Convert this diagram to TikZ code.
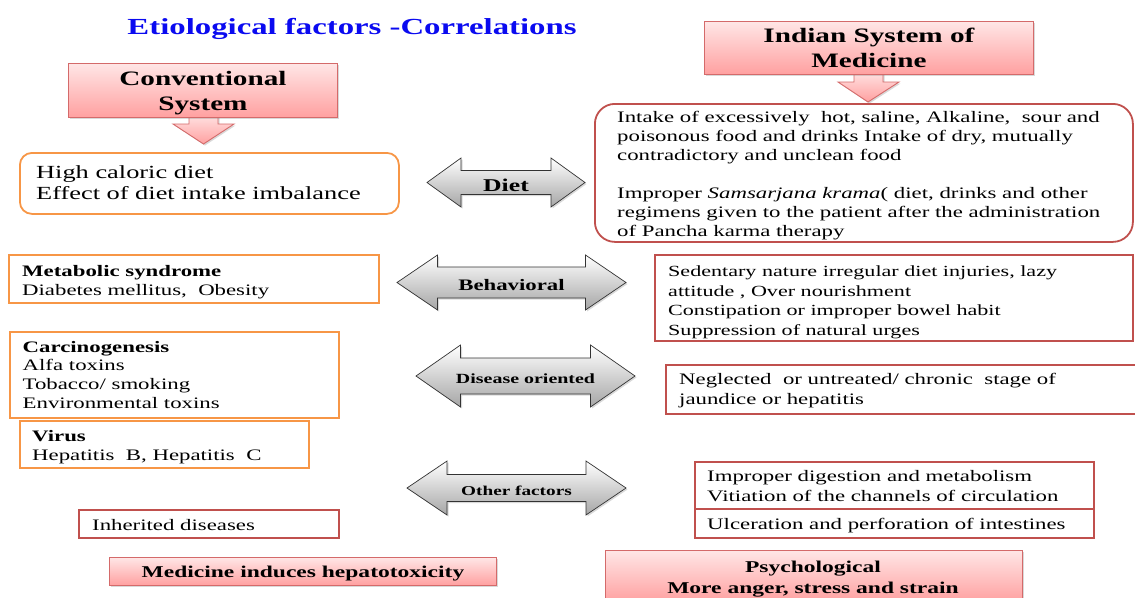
\documentclass[tikz,border=0pt]{standalone}
\usepackage{fontspec}
\setmainfont{Liberation Serif}
\usetikzlibrary{shadows}
\definecolor{orng}{HTML}{F79646}
\definecolor{rdb}{HTML}{C0504D}
\definecolor{pinkt}{HTML}{FFE6E6}
\definecolor{pinkb}{HTML}{FFA0A0}
\definecolor{pinkd}{HTML}{D46A6A}
\definecolor{titleblue}{HTML}{0A0AF0}
\newcommand\stx[1]{\scalebox{1.425}[1]{#1}}
\newcommand\fs[2]{\fontsize{#1}{#2}\selectfont}
\newcommand\gdarrow[7]{%
  \path[garrow] (#2-#4,#3) -- (#2-#5,#3-#7) -- (#2-#5,#3-#6) -- (#2+#5,#3-#6) -- (#2+#5,#3-#7) -- (#2+#4,#3) -- (#2+#5,#3+#7) -- (#2+#5,#3+#6) -- (#2-#5,#3+#6) -- (#2-#5,#3+#7) -- cycle;
  \coordinate (#1) at (#2,#3);}
\begin{document}
\begin{tikzpicture}[x=1pt,y=-1pt,
  obox/.style={draw=orng, line width=1.8pt, fill=white, inner sep=0pt, anchor=north west},
  rbox/.style={draw=rdb, line width=1.8pt, fill=white, inner sep=0pt, anchor=north west},
  pbox/.style={draw=pinkd, line width=0.9pt, top color=pinkt, bottom color=pinkb,
    drop shadow={shadow xshift=1.5pt, shadow yshift=-1.5pt, opacity=0.3}},
  garrow/.style={draw=black!80, line width=0.7pt, top color=white, bottom color=black!35,
    drop shadow={shadow xshift=1.5pt, shadow yshift=-1.5pt, opacity=0.3}},
  txt/.style={inner sep=0pt, anchor=west, yshift=-2.5pt},
  ctxt/.style={inner sep=0pt, yshift=-2.5pt},
]
\useasboundingbox (0,0) rectangle (1135,597);
\clip (0,0) rectangle (1135,597);

% title
\node[ctxt, text=titleblue, font=\fs{23}{27}\bfseries] (title) at (352,26) {\stx{Etiological factors -Correlations}};

% down arrows
\path[pbox] (189,113) -- (218,113) -- (218,124) -- (234,124) -- (203.5,144) -- (173,124) -- (189,124) -- cycle;
\path[pbox] (854,70) -- (883,70) -- (883,82) -- (899,82) -- (868,102) -- (838,82) -- (854,82) -- cycle;

% header boxes
\node[pbox, inner sep=0pt, anchor=north west, minimum width=269pt, minimum height=54pt] (conv) at (68,63) {};
\node[ctxt, font=\fs{20.5}{25}\bfseries] (convt) at (conv.center) {\stx{\begin{tabular}{@{}c@{}}Conventional\\System\end{tabular}}};
\node[pbox, inner sep=0pt, anchor=north west, minimum width=329pt, minimum height=53pt] (ind) at (704,21) {};
\node[ctxt, font=\fs{20.5}{25}\bfseries] (indt) at (ind.center) {\stx{\begin{tabular}{@{}c@{}}Indian System of\\Medicine\end{tabular}}};

% left column
\node[obox, rounded corners=12pt, minimum width=379pt, minimum height=61pt] (dietl) at (19,152) {};
\node[txt, font=\fs{18.5}{21}] (dietlt) at (36,182.5) {\stx{\begin{tabular}{@{}l@{}}High caloric diet\\Effect of diet intake imbalance\end{tabular}}};

\node[obox, minimum width=370pt, minimum height=48pt] (met) at (8,254) {};
\node[txt, font=\fs{16}{19}] (mett) at (22,279.5) {\stx{\begin{tabular}{@{}l@{}}\textbf{Metabolic syndrome}\\Diabetes mellitus,\ \ Obesity\end{tabular}}};

\node[obox, minimum width=329pt, minimum height=86pt] (carc) at (9,331) {};
\node[txt, font=\fs{16}{18.7}] (carct) at (22.5,374) {\stx{\begin{tabular}{@{}l@{}}\textbf{Carcinogenesis}\\Alfa toxins\\Tobacco/ smoking\\Environmental toxins\end{tabular}}};

\node[obox, minimum width=289pt, minimum height=47pt] (vir) at (19,420) {};
\node[txt, font=\fs{16}{19}] (virt) at (32,444.5) {\stx{\begin{tabular}{@{}l@{}}\textbf{Virus}\\Hepatitis\ \ B, Hepatitis\ \ C\end{tabular}}};

\node[rbox, minimum width=260pt, minimum height=28pt] (inh) at (78,509) {};
\node[txt, font=\fs{16}{19}] (inht) at (92,523) {\stx{Inherited diseases}};

\node[pbox, inner sep=0pt, anchor=north west, minimum width=387pt, minimum height=28pt] (med) at (109,557) {};
\node[ctxt, font=\fs{16.5}{20}\bfseries] (medt) at (med.center) {\stx{Medicine induces hepatotoxicity}};

% right column
\node[rbox, rounded corners=20pt, minimum width=538pt, minimum height=138pt] (ayd) at (594,103) {};
\node[txt, font=\fs{16}{19}] (aydt) at (617,173.5) {\stx{\begin{tabular}{@{}l@{}}Intake of excessively\ \ hot, saline, Alkaline,\ \ sour and\\poisonous food and drinks Intake of dry, mutually\\contradictory and unclean food\\ \\Improper \textit{Samsarjana krama}( diet, drinks and other\\regimens given to the patient after the administration\\of Pancha karma therapy\end{tabular}}};

\node[rbox, minimum width=478pt, minimum height=86pt] (beh) at (654,254) {};
\node[txt, font=\fs{15.5}{19.5}] (beht) at (668,299.5) {\stx{\begin{tabular}{@{}l@{}}Sedentary nature irregular diet injuries, lazy\\attitude , Over nourishment\\Constipation or improper bowel habit\\Suppression of natural urges\end{tabular}}};

\node[rbox, minimum width=480pt, minimum height=49pt] (neg) at (665,364) {};
\node[txt, font=\fs{16}{20}] (negt) at (679,388) {\stx{\begin{tabular}{@{}l@{}}Neglected\ \ or untreated/ chronic\ \ stage of\\jaundice or hepatitis\end{tabular}}};

\node[rbox, minimum width=399pt, minimum height=47pt] (imp) at (694,461) {};
\node[txt, font=\fs{16}{20}] (impt) at (707,485) {\stx{\begin{tabular}{@{}l@{}}Improper digestion and metabolism\\Vitiation of the channels of circulation\end{tabular}}};

\node[rbox, minimum width=399pt, minimum height=29pt] (ulc) at (694,508) {};
\node[txt, font=\fs{16}{20}] (ulct) at (707,523) {\stx{Ulceration and perforation of intestines}};

\node[pbox, inner sep=0pt, anchor=north west, minimum width=417pt, minimum height=52pt] (psy) at (605,550) {};
\node[ctxt, font=\fs{16.5}{21}\bfseries] (psyt) at (813,576.5) {\stx{\begin{tabular}{@{}c@{}}Psychological\\More anger, stress and strain\end{tabular}}};

% gray double arrows
\gdarrow{adiet}{506}{182.5}{79}{45}{12}{24.5}
\node[ctxt, font=\fs{18}{21}\bfseries] (ldiet) at (adiet) {\stx{Diet}};
\gdarrow{abeh}{511.5}{282.5}{114.5}{74}{15.5}{27.5}
\node[ctxt, font=\fs{16}{19}\bfseries] (lbeh) at (abeh) {\stx{Behavioral}};
\gdarrow{adis}{525.5}{376}{109.5}{65}{18}{31}
\node[ctxt, font=\fs{14}{17}\bfseries] (ldis) at (adis) {\stx{Disease oriented}};
\gdarrow{aoth}{516.5}{488}{109.5}{69.5}{13.5}{27}
\node[ctxt, font=\fs{13.5}{16}\bfseries] (loth) at (aoth) {\stx{Other factors}};
\end{tikzpicture}
\end{document}
